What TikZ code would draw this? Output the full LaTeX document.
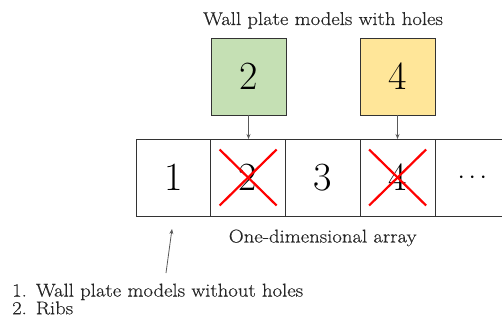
\documentclass[tikz,border=0pt]{standalone}
\usepackage{fontspec}
\usetikzlibrary{arrows.meta}
\newfontfamily\lblfont{Latin Modern Roman}[FakeStretch=1.12,FakeBold=0.4]
\definecolor{boxgreen}{HTML}{C5E0B4}
\definecolor{boxyellow}{HTML}{FFE699}
\begin{document}
\begin{tikzpicture}[x=1pt,y=-1pt,
  cell/.style={minimum width=74.75pt,minimum height=77pt,inner sep=0pt,outer sep=0pt,
    draw=black!80,line width=0.8pt,font=\fontsize{40}{40}\selectfont},
  lbl/.style={inner sep=0pt,text=black!85,font=\lblfont\fontsize{18.5}{17.7}\selectfont},
  arr/.style={draw=black!65,line width=0.8pt,-{Stealth[length=5pt,width=4pt]}},
  xline/.style={red,line width=2.2pt}]
\useasboundingbox (0,0) rectangle (502,320);
\clip (0,0) rectangle (502,320);
% array cells
\node[cell] (c1) at (173.4,177.5) {1};
\node[cell] (c2) at (248.1,177.5) {2};
\node[cell] (c3) at (322.9,177.5) {3};
\node[cell] (c4) at (397.6,177.5) {4};
\node[cell] (c5) at (472.4,177.5) {$\cdots$};
% crosses
\draw[xline] ([shift={(-28.5,-28)}]c2.center) -- ([shift={(28.5,28)}]c2.center);
\draw[xline] ([shift={(28.5,-28)}]c2.center) -- ([shift={(-28.5,28)}]c2.center);
\draw[xline] ([shift={(-28.5,-28)}]c4.center) -- ([shift={(28.5,28)}]c4.center);
\draw[xline] ([shift={(28.5,-28)}]c4.center) -- ([shift={(-28.5,28)}]c4.center);
% upper boxes
\node[cell,fill=boxgreen,minimum width=75pt] (g2) at (248.5,76.5) {2};
\node[cell,fill=boxyellow,minimum width=75pt] (y4) at (397.5,76.5) {4};
\draw[arr] (g2.south) -- (g2.south |- c2.north);
\draw[arr] (y4.south) -- (y4.south |- c4.north);
% labels
\node[lbl,anchor=base] (title) at (323,25) {Wall plate models with holes};
\node[lbl,anchor=base] (arrlabel) at (322.7,242.5) {One-dimensional array};
\node[lbl,anchor=north west,align=left] (list) at (12,283.5)
  {1.\hspace{9pt}Wall plate models without holes\\2.\hspace{9pt}Ribs};
\coordinate (pa) at (166,273);
\coordinate (pb) at (172,229);
\draw[arr] (pa) -- (pb);
\end{tikzpicture}
\end{document}
